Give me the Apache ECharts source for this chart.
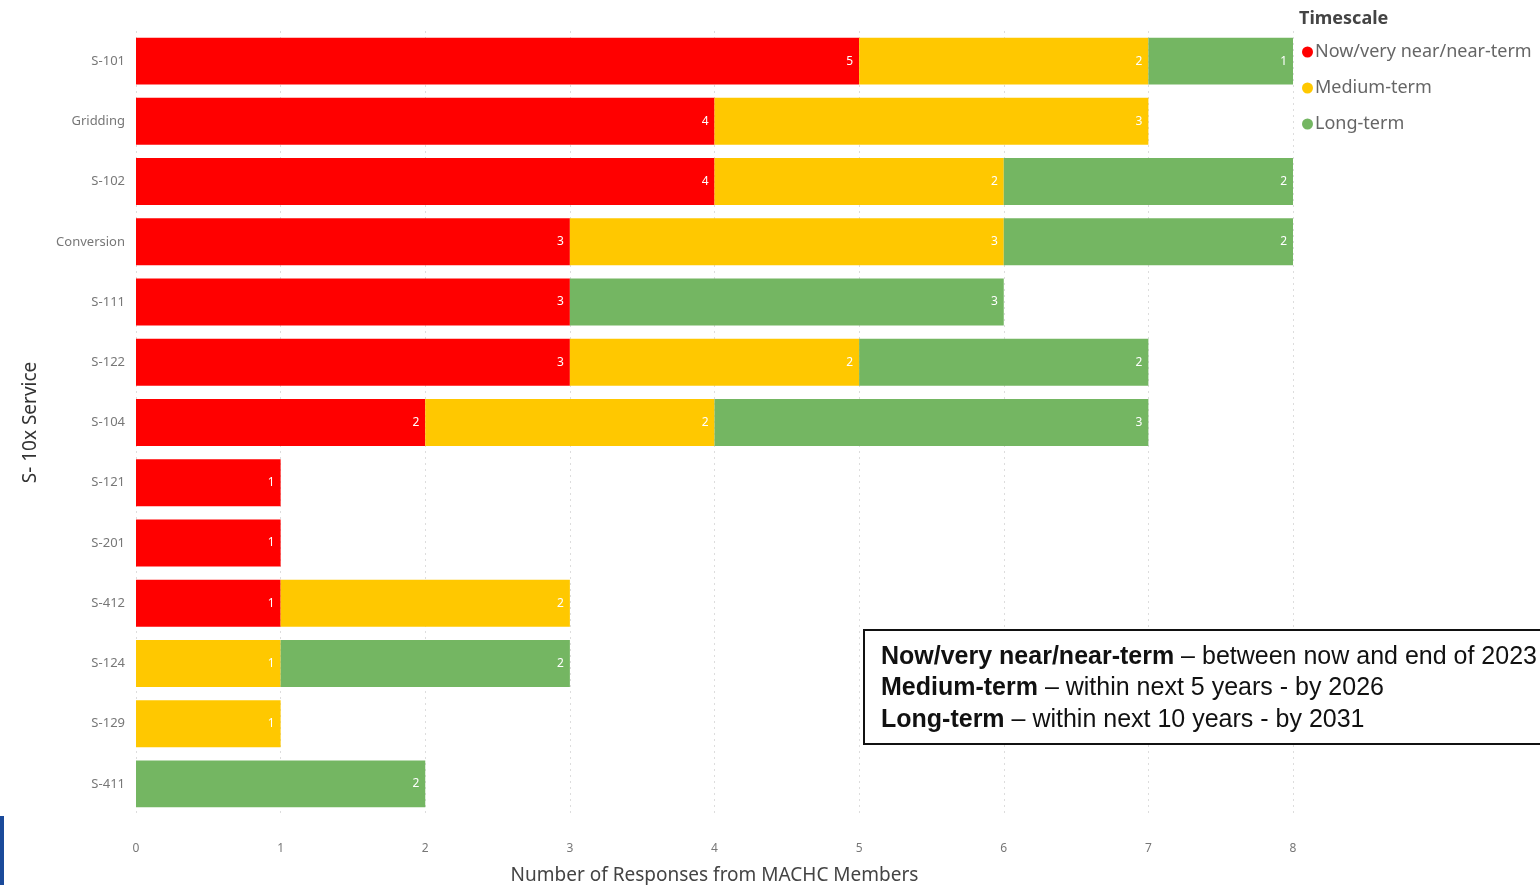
<!DOCTYPE html>
<html>
<head>
<meta charset="utf-8">
<script src="https://cdn.jsdelivr.net/npm/echarts@6/dist/echarts.min.js"></script>
<style>
html,body{margin:0;padding:0;background:#fff;}
#chart{width:1540px;height:885px;}
</style>
</head>
<body>
<div id="chart"></div>
<script>
const categories = ['S-101','Gridding','S-102','Conversion','S-111','S-122','S-104','S-121','S-201','S-412','S-124','S-129','S-411'];
const nearTerm   = [5,4,4,3,3,3,2,1,1,1,0,0,0];
const mediumTerm = [2,3,2,3,0,2,2,0,0,2,1,1,0];
const longTerm   = [1,0,2,2,3,2,3,0,0,0,2,0,2];
const seriesNames = ['Now/very near/near-term','Medium-term','Long-term'];
const xTicks = [0,1,2,3,4,5,6,7,8];

const chart = echarts.init(document.getElementById('chart'));
const font = '"Noto Sans", "Open Sans", sans-serif';
const lbl = {
  show: true, position: 'insideRight', color: '#fff', fontSize: 12, fontFamily: font,
  formatter: p => p.value === 0 ? '' : p.value, distance: 6
};
function mk(name, data, color){
  return { name, type: 'bar', stack: 'total', data, barWidth: '78%',
    itemStyle: { color }, label: lbl, emphasis: { disabled: true } };
}
chart.setOption({
  animation: false,
  textStyle: { fontFamily: font },
  grid: { left: 136, right: 247, top: 31, bottom: 71, containLabel: false, outerBoundsMode: 'none' },
  legend: {
    orient: 'vertical', left: 1297, top: 38, itemGap: 18,
    icon: 'circle', itemWidth: 11, itemHeight: 11,
    textStyle: { color: '#666', fontSize: 18, fontFamily: font, padding: [0,0,0,-3] },
    data: seriesNames
  },
  xAxis: {
    type: 'value', min: 0, max: 8, interval: 1,
    axisLine: { show: false }, axisTick: { show: false },
    axisLabel: { color: '#777', fontSize: 12, margin: 29, formatter: v => xTicks.includes(v) ? String(v) : '' },
    splitLine: { show: true, lineStyle: { color: '#ddd', type: [2,4], width: 1 } },
    name: 'Number of Responses from MACHC Members', nameLocation: 'middle', nameGap: 52,
    nameTextStyle: { color: '#444', fontSize: 19, fontFamily: font }
  },
  yAxis: {
    type: 'category', data: categories, inverse: true,
    axisLine: { show: false }, axisTick: { show: false },
    axisLabel: { color: '#777', fontSize: 13, margin: 11 },
    name: 'S- 10x Service', nameLocation: 'middle', nameGap: 96, nameRotate: 90,
    nameTextStyle: { color: '#333', fontSize: 19, fontFamily: font, letterSpacing: 1.5 }
  },
  series: [
    mk(seriesNames[0], nearTerm, '#ff0000'),
    mk(seriesNames[1], mediumTerm, '#ffc800'),
    mk(seriesNames[2], longTerm, '#74b662')
  ],
  graphic: [
    { type: 'text', left: 1299, top: 10, style: { text: 'Timescale', fill: '#444', font: 'bold 18px "Noto Sans", sans-serif' } },
    { type: 'rect', z: 100, shape: { x: 864, y: 630, width: 700, height: 114 }, style: { fill: '#fff', stroke: '#111', lineWidth: 2 } },
    { type: 'text', z: 101, x: 881, y: 641, style: {
        text: '{b|Now/very near/near-term} – between now and end of 2023\n{b|Medium-term} – within next 5 years - by 2026\n{b|Long-term} – within next 10 years - by 2031',
        fill: '#111', font: '25px "Liberation Sans", Arial, sans-serif', lineHeight: 31.5,
        rich: { b: { fontWeight: 'bold', fontSize: 25, fontFamily: '"Liberation Sans", Arial, sans-serif', fill: '#111', lineHeight: 31.5 } }
    } },
    { type: 'rect', z: 100, shape: { x: 0, y: 816, width: 4, height: 69 }, style: { fill: '#1a4a9a' } }
  ]
});
</script>
</body>
</html>
